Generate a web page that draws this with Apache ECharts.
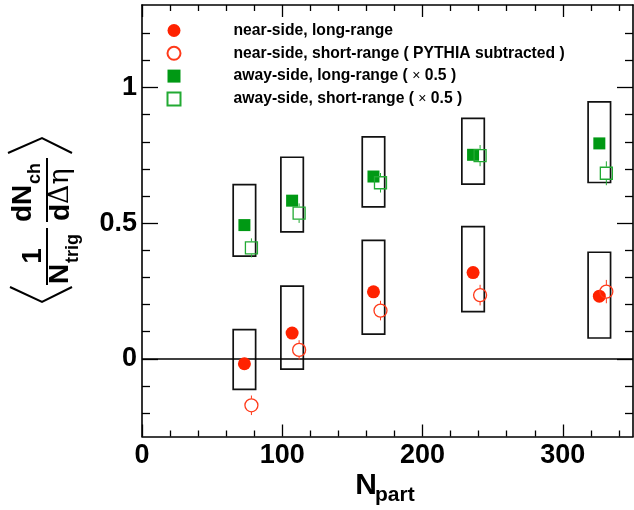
<!DOCTYPE html>
<html>
<head>
<meta charset="utf-8">
<script src="https://cdn.jsdelivr.net/npm/echarts@6/dist/echarts.min.js"></script>
<style>
html,body{margin:0;padding:0;background:#fff;}
#main{width:634px;height:510px;}
</style>
</head>
<body>
<div id="main"></div>
<script>
// ---- data ----
const npartCenters = [73, 107, 165, 236, 326];
const npartShifted = [78, 112, 170, 241, 331];
const nearLong  = [-0.018, 0.095, 0.247, 0.318, 0.231];
const nearShort = [-0.171, 0.033, 0.178, 0.235, 0.248];
const nearShortErr = [0.036, 0.036, 0.036, 0.038, 0.043];
const awayLong  = [0.493, 0.583, 0.672, 0.752, 0.794];
const awayShort = [0.409, 0.537, 0.649, 0.749, 0.684];
const awayShortErr = [0.035, 0.036, 0.036, 0.039, 0.044];
const nearSysLo = [-0.112, -0.038, 0.091, 0.174, 0.077];
const nearSysHi = [0.108, 0.268, 0.437, 0.487, 0.393];
const awaySysLo = [0.379, 0.468, 0.560, 0.644, 0.650];
const awaySysHi = [0.642, 0.743, 0.818, 0.886, 0.947];
const seriesNames = [
  'near-side, long-range',
  'near-side, short-range ( PYTHIA subtracted )',
  'away-side, long-range ( × 0.5 )',
  'away-side, short-range ( × 0.5 )'
];
const xMajorTicks = [0, 100, 200, 300];
const xMinorTicks = [20, 40, 60, 80, 120, 140, 160, 180, 220, 240, 260, 280, 320, 340];
const yMajorTicks = [0, 0.5, 1];
const yMinorTicks = [-0.2, -0.1, 0.1, 0.2, 0.3, 0.4, 0.6, 0.7, 0.8, 0.9, 1.1, 1.2];
const zeroLine = [[0, 0], [350, 0]];

// ---- styling constants ----
const FONT = "'Liberation Sans', Arial, Helvetica, sans-serif";
const RED = '#ff2200';
const RED_OPEN = '#ff3a1a';
const GREEN = '#009914';
const GREEN_OPEN = '#22aa33';
const BOX_HALF = 8;
const MARK_R = 6.5;

const chart = echarts.init(document.getElementById('main'), null, {renderer: 'canvas'});

function boxItem(params, api) {
  const x = api.value(0), lo = api.value(1), hi = api.value(2);
  const p1 = api.coord([x - BOX_HALF, hi]);
  const p2 = api.coord([x + BOX_HALF, lo]);
  return {
    type: 'rect',
    shape: {x: p1[0], y: p1[1], width: p2[0] - p1[0], height: p2[1] - p1[1]},
    style: {fill: 'none', stroke: '#111', lineWidth: 1.7}
  };
}
function errItem(color) {
  return function (params, api) {
    const x = api.value(0), y = api.value(1), e = api.value(2);
    const c = api.coord([x, y]);
    const t = api.coord([x, y + e]);
    const b = api.coord([x, y - e]);
    const ch = [];
    if (t[1] < c[1] - MARK_R) ch.push({type: 'line', shape: {x1: c[0], y1: t[1], x2: c[0], y2: c[1] - MARK_R}, style: {stroke: color, lineWidth: 1}});
    if (b[1] > c[1] + MARK_R) ch.push({type: 'line', shape: {x1: c[0], y1: c[1] + MARK_R, x2: c[0], y2: b[1]}, style: {stroke: color, lineWidth: 1}});
    return {type: 'group', children: ch};
  };
}

const axisLineStyle = {color: '#000', width: 1.6};
function xAx(pos, ticks, len, labels, line) {
  return {
    type: 'value', min: 0, max: 350, position: pos,
    axisLine: {show: line, onZero: false, lineStyle: axisLineStyle},
    axisTick: {show: true, inside: true, length: len, customValues: ticks, lineStyle: {color: '#000', width: 1.3}},
    axisLabel: labels ? {show: true, customValues: ticks, margin: 6, fontSize: 27, fontWeight: 'bold', fontFamily: FONT, color: '#000'} : {show: false},
    splitLine: {show: false}
  };
}
function yAx(pos, ticks, len, labels, line) {
  return {
    type: 'value', min: -0.286, max: 1.304, position: pos,
    axisLine: {show: line, onZero: false, lineStyle: axisLineStyle},
    axisTick: {show: true, inside: true, length: len, customValues: ticks, lineStyle: {color: '#000', width: 1.3}},
    axisLabel: labels ? {show: true, customValues: ticks, margin: 5, fontSize: 27, fontWeight: 'bold', fontFamily: FONT, color: '#000',
      formatter: v => String(Math.round(v * 10) / 10)} : {show: false},
    splitLine: {show: false}
  };
}

const legendRich = {
  n: {fontSize: 15.7, fontWeight: 'bold', fontFamily: FONT, color: '#000'},
  x: {fontSize: 14, fontWeight: 'normal', fontFamily: FONT, color: '#000'}
};

const option = {
  animation: false,
  backgroundColor: '#fff',
  grid: {left: 142, right: 1, top: 5, bottom: 73.5, containLabel: false},
  xAxis: [
    xAx('bottom', xMajorTicks, 12, true, true),
    xAx('bottom', xMinorTicks, 6, false, false),
    xAx('top', xMajorTicks, 12, false, true),
    xAx('top', xMinorTicks, 6, false, false)
  ],
  yAxis: [
    yAx('left', yMajorTicks, 16, true, true),
    yAx('left', yMinorTicks, 8, false, false),
    yAx('right', yMajorTicks, 16, false, true),
    yAx('right', yMinorTicks, 8, false, false)
  ],
  legend: {
    orient: 'vertical', left: 166.5, top: 22.5, padding: 0,
    itemWidth: 13, itemHeight: 13, itemGap: 6.8,
    selectedMode: false,
    data: seriesNames,
    formatter: name => '{n|' + name.replace('×', '}{x|×}{n|') + '}',
    textStyle: {padding: [0, 0, 0, 48], rich: legendRich, fontSize: 15.7, fontWeight: 'bold', fontFamily: FONT, color: '#000'}
  },
  series: [
    {type: 'custom', name: 'nearSys', renderItem: boxItem, z: 1,
     data: npartCenters.map((x, i) => [x, nearSysLo[i], nearSysHi[i]])},
    {type: 'custom', name: 'awaySys', renderItem: boxItem, z: 1,
     data: npartCenters.map((x, i) => [x, awaySysLo[i], awaySysHi[i]])},
    {type: 'line', name: 'zero', data: zeroLine, symbol: 'none', z: 2, silent: true,
     lineStyle: {color: '#000', width: 1.5}},
    {type: 'custom', name: 'nearErr', renderItem: errItem(RED_OPEN), z: 3,
     data: npartShifted.map((x, i) => [x, nearShort[i], nearShortErr[i]])},
    {type: 'custom', name: 'awayErr', renderItem: errItem(GREEN_OPEN), z: 3,
     data: npartShifted.map((x, i) => [x, awayShort[i], awayShortErr[i]])},
    {type: 'scatter', name: seriesNames[0], symbol: 'circle', symbolSize: 13, z: 4,
     itemStyle: {color: RED, opacity: 1},
     data: npartCenters.map((x, i) => [x, nearLong[i]])},
    {type: 'scatter', name: seriesNames[1], symbol: 'circle', symbolSize: 13, z: 5,
     itemStyle: {color: 'rgba(0,0,0,0)', borderColor: RED_OPEN, borderWidth: 1.3, opacity: 1},
     data: npartShifted.map((x, i) => [x, nearShort[i]])},
    {type: 'scatter', name: seriesNames[2], symbol: 'rect', symbolSize: 12, z: 4,
     itemStyle: {color: GREEN, opacity: 1},
     data: npartCenters.map((x, i) => [x, awayLong[i]])},
    {type: 'scatter', name: seriesNames[3], symbol: 'rect', symbolSize: 12, z: 5,
     itemStyle: {color: 'rgba(0,0,0,0)', borderColor: GREEN_OPEN, borderWidth: 1.3, opacity: 1},
     data: npartShifted.map((x, i) => [x, awayShort[i]])}
  ],
  graphic: [
    {
      type: 'group', x: 47, y: 230, rotation: Math.PI / 2, silent: true,
      children: [
        {type: 'polyline', shape: {points: [[-57, -37], [-72, -5], [-57, 25]]}, style: {stroke: '#000', lineWidth: 2, fill: null}},
        {type: 'polyline', shape: {points: [[77, -39], [92, -5], [77, 25]]}, style: {stroke: '#000', lineWidth: 2, fill: null}},
        {type: 'line', shape: {x1: -55, y1: 0, x2: 2, y2: 0}, style: {stroke: '#000', lineWidth: 2}},
        {type: 'line', shape: {x1: 8, y1: 0, x2: 72, y2: 0}, style: {stroke: '#000', lineWidth: 2}},
        {type: 'text', x: -26, y: -14, style: {text: '1', font: 'bold 28px ' + FONT, fill: '#000', align: 'center', verticalAlign: 'middle'}},
        {type: 'text', x: -44, y: 13, style: {text: 'N', font: 'bold 28px ' + FONT, fill: '#000', align: 'center', verticalAlign: 'middle'}},
        {type: 'text', x: -33, y: 26, style: {text: 'trig', font: 'bold 18px ' + FONT, fill: '#000', align: 'left', verticalAlign: 'middle'}},
        {type: 'text', x: 8, y: -24, style: {text: 'dN', font: 'bold 28px ' + FONT, fill: '#000', align: 'left', verticalAlign: 'middle'}},
        {type: 'text', x: 46, y: -12, style: {text: 'ch', font: 'bold 18px ' + FONT, fill: '#000', align: 'left', verticalAlign: 'middle'}},
        {type: 'text', x: 9, y: 14, style: {text: '{b|d}{s|Δη}', align: 'left', verticalAlign: 'middle',
          rich: {b: {font: 'bold 28px ' + FONT, fill: '#000'}, s: {font: '27px "DejaVu Serif", "Liberation Serif", serif', fill: '#000'}}}}
      ]
    },
    {type: 'text', x: 366, y: 486, silent: true, style: {text: 'N', font: 'bold 30px ' + FONT, fill: '#000', align: 'center', verticalAlign: 'middle'}},
    {type: 'text', x: 375, y: 495, silent: true, style: {text: 'part', font: 'bold 21px ' + FONT, fill: '#000', align: 'left', verticalAlign: 'middle'}}
  ]
};
chart.setOption(option);
</script>
</body>
</html>
